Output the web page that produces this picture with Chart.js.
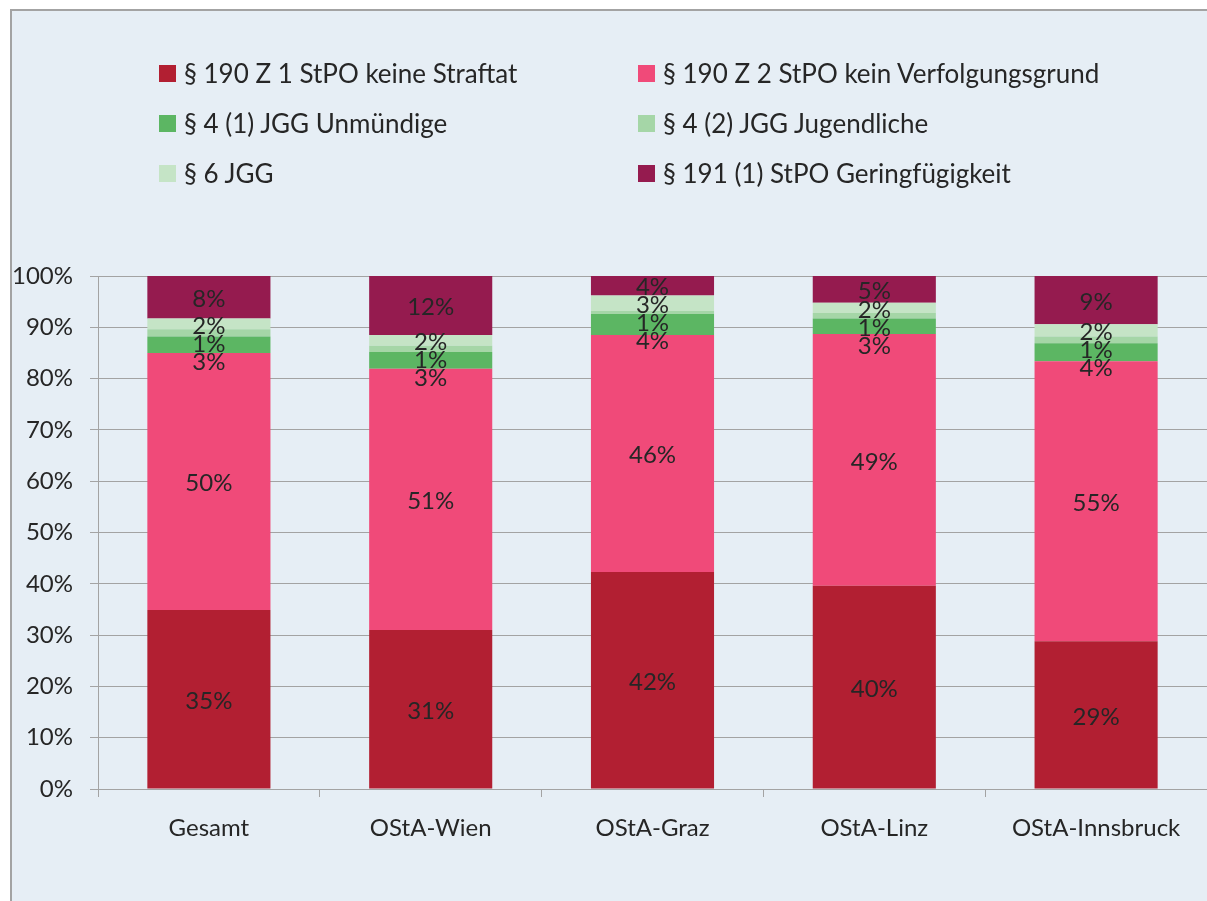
<!DOCTYPE html>
<html>
<head>
<meta charset="utf-8">
<script src="https://cdn.jsdelivr.net/npm/chart.js@4.4.0/dist/chart.umd.min.js"></script>
<style>
  body { margin: 0; background: #fff; width: 1207px; height: 901px; overflow: hidden; position: relative; font-family: Lato, sans-serif; }
  #panel { position: absolute; left: 10px; top: 9px; width: 1220px; height: 910px; background: #e6eef5; border-left: 2px solid #a3a3a3; border-top: 2px solid #a3a3a3; }
  #grafica { position: absolute; left: 0; top: 0; }
  #leyenda { position: absolute; left: 159px; top: 48px; display: grid; grid-template-columns: 479px 440px; }
  .item { height: 50px; display: flex; align-items: center; font-size: 26px; color: #262626; white-space: nowrap; }
  .caja { width: 17px; height: 17px; margin-right: 8px; flex: none; }
</style>
</head>
<body>
<div id="panel"></div>
<canvas id="grafica" width="1207" height="901"></canvas>
<div id="leyenda"></div>
<script>
// Datos

const categorias = ['Gesamt', 'OStA-Wien', 'OStA-Graz', 'OStA-Linz', 'OStA-Innsbruck'];

const keineStraftat    = [34.9, 31.0, 42.3, 39.6, 28.8];
const keinVerfolgung   = [50.1, 50.9, 46.2, 49.1, 54.6];
const jggUnmuendige    = [3.2, 3.3, 4.1, 3.0, 3.5];
const jggJugendliche   = [1.4, 1.2, 0.6, 1.1, 1.3];
const jgg6             = [2.1, 2.1, 3.0, 2.0, 2.4];
const geringfuegigkeit = [8.3, 11.5, 3.8, 5.2, 9.4];

const yTicks = [0, 10, 20, 30, 40, 50, 60, 70, 80, 90, 100];

const nombres = [
   '§ 190 Z 1 StPO keine Straftat',
   '§ 190 Z 2 StPO kein Verfolgungsgrund',
   '§ 4 (1) JGG Unmündige',
   '§ 4 (2) JGG Jugendliche',
   '§ 6 JGG',
   '§ 191 (1) StPO Geringfügigkeit'
];
const colores = ['#b21f32', '#f04a79', '#5cb663', '#a5d6a7', '#c5e4c6', '#951b4f'];
const series = [keineStraftat, keinVerfolgung, jggUnmuendige, jggJugendliche, jgg6, geringfuegigkeit];

const gris = '#a3a3a3';
const texto = '#262626';

Chart.defaults.font.family = 'Lato';
Chart.defaults.font.size = 24;
Chart.defaults.color = texto;

// Etiquetas de los segmentos (se empujan hacia abajo si se pisan)
const etiquetas = {
   id: 'etiquetas',
   afterDatasetsDraw(chart) {
      const ctx = chart.ctx;
      ctx.save();
      ctx.font = '24px Lato';
      ctx.fillStyle = texto;
      ctx.textAlign = 'center';
      ctx.textBaseline = 'middle';
      categorias.forEach(function (c, i) {
         let prev = -1000;
         for (let d = chart.data.datasets.length - 1; d >= 0; d--) {
            const bar = chart.getDatasetMeta(d).data[i];
            let y = (bar.y + bar.base) / 2 + 2;
            if (y < prev + 18) y = prev + 18;
            prev = y;
            ctx.fillText(Math.round(chart.data.datasets[d].data[i]) + '%', bar.x, y);
         }
      });
      ctx.restore();
   }
};

const data = {
   labels: categorias,
   datasets: series.map(function (s, i) {
      return {
         label: nombres[i],
         data: s,
         backgroundColor: colores[i],
         borderWidth: 0,
         barPercentage: 0.555,
         categoryPercentage: 1
      };
   })
};

const config = {
   type: 'bar',
   data: data,
   plugins: [etiquetas],
   options: {
      responsive: false,
      animation: false,
      devicePixelRatio: 1,
      layout: { padding: { top: 276, left: 0, right: 0, bottom: 0 } },
      plugins: {
         legend: { display: false },
         tooltip: { enabled: false }
      },
      scales: {
         x: {
            stacked: true,
            grid: { display: true, drawOnChartArea: false, drawTicks: true, tickLength: 8, color: gris, offset: true },
            border: { display: true, color: gris },
            ticks: { padding: 17, maxRotation: 0 },
            afterFit: function (s) { s.height = 112; }
         },
         y: {
            stacked: true,
            min: 0,
            max: 100,
            afterBuildTicks: function (s) { s.ticks = yTicks.map(function (v) { return { value: v }; }); },
            ticks: { padding: 17, callback: function (v) { return v + '%'; } },
            grid: { color: gris, tickLength: 8 },
            border: { display: true, color: gris },
            afterFit: function (s) { s.width = 98; }
         }
      }
   }
};

const myChart = new Chart(document.getElementById('grafica'), config);

// Leyenda en dos columnas
const leyenda = document.getElementById('leyenda');
nombres.forEach(function (n, i) {
   const item = document.createElement('div');
   item.className = 'item';
   const caja = document.createElement('span');
   caja.className = 'caja';
   caja.style.backgroundColor = colores[i];
   item.appendChild(caja);
   item.appendChild(document.createTextNode(n));
   leyenda.appendChild(item);
});
</script>
</body>
</html>
